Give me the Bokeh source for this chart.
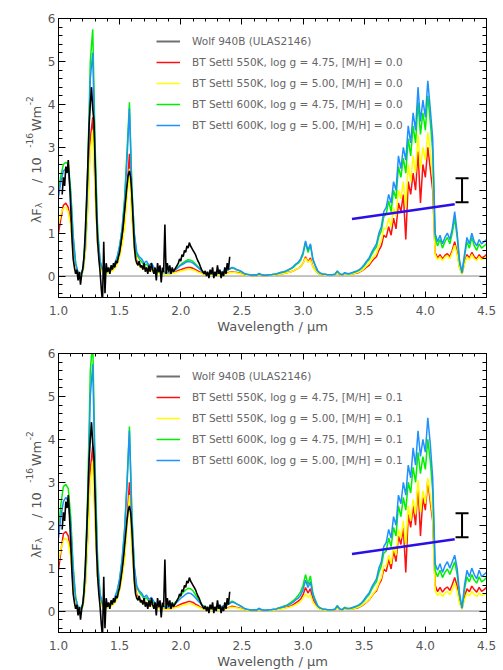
import numpy as np
from bokeh.plotting import figure
from bokeh.layouts import column, row
from bokeh.core.properties import value
from bokeh.models import (Range1d, LinearAxis, FixedTicker, Span, Legend,
                          LegendItem, CustomJSTickFormatter, PrintfTickFormatter,
                          Whisker, TeeHead, ColumnDataSource)
from bokeh.embed import file_html
from bokeh.resources import INLINE

# ---------------- data ----------------
wl_model = np.round(np.arange(1.0, 4.5001, 0.02), 2)   # model wavelength grid (um)
wl_obs = np.round(np.arange(1.03, 2.4001, 0.01), 2)    # observed spectrum grid (um)

flux_obs = [
    1.9, 2.3, 2.1, 2.55, 2.4, 2.7, 2.2, 1.6, 0.9, 0.4,
    0.2, 0.05, 0.15, -0.1, 0.1, -0.2, 0.05, 0.2, 0.5, 1.1,
    1.8, 2.6, 3.5, 4.0, 4.4, 3.9, 3.6, 2.6, 1.5, 0.8,
    0.4, 0.1, -0.3, -0.6, 0.8, -0.4, 0.3, 0.1, 0.2, 0.05,
    0.25, 0.15, 0.3, 0.2, 0.35, 0.3, 0.45, 0.55, 0.75, 0.95,
    1.2, 1.5, 1.8, 2.1, 2.35, 2.45, 2.3, 1.9, 1.3, 0.7,
    0.4, 0.3, 0.25, 0.35, 0.2, 0.25, 0.15, 0.3, 0.1, 0.2,
    0.05, 0.25, 0.1, 0.3, 0.15, 0.05, 0.2, -0.1, 0.3, 0.1,
    0.25, -0.15, 0.2, 0.1, 1.2, 0.05, 0.3, 0.1, 0.25, 0.05,
    0.2, 0.1, 0.15, 0.2, 0.25, 0.3, 0.4, 0.35, 0.5, 0.45,
    0.6, 0.55, 0.7, 0.65, 0.78, 0.7, 0.65, 0.6, 0.55, 0.5,
    0.42, 0.35, 0.3, 0.22, 0.15, 0.1, 0.05, 0.12, 0.0, 0.1,
    -0.05, 0.15, 0.05, 0.2, -0.05, 0.1, 0.0, 0.25, 0.05, 0.15,
    -0.05, 0.1, 0.0, 0.2, 0.05, 0.3, 0.15, 0.45,
]

# [M/H] = 0.0 models
mh00_550_475 = [
    1.0, 1.35, 1.65, 1.7, 1.6, 1.25, 0.6, 0.2, 0.06, 0.04,
    0.1, 0.6, 1.7, 3.2, 3.7, 2.0, 0.75, 0.25, 0.1, 0.07,
    0.08, 0.1, 0.13, 0.2, 0.3, 0.5, 0.8, 1.25, 2.0, 2.85,
    1.5, 0.7, 0.35, 0.28, 0.22, 0.17, 0.18, 0.13, 0.14, 0.1,
    0.08, 0.07, 0.06, 0.06, 0.05, 0.05, 0.06, 0.08, 0.1, 0.13,
    0.15, 0.17, 0.19, 0.2, 0.2, 0.18, 0.15, 0.12, 0.09, 0.06,
    0.04, 0.03, 0.03, 0.03, 0.03, 0.04, 0.04, 0.05, 0.06, 0.07,
    0.09, 0.1, 0.09, 0.08, 0.07, 0.05, 0.03, 0.02, 0.02, 0.01,
    0.02, 0.01, 0.03, 0.02, 0.01, 0.01, 0.02, 0.02, 0.02, 0.03,
    0.04, 0.05, 0.06, 0.07, 0.09, 0.1, 0.12, 0.15, 0.18, 0.22,
    0.3, 0.45, 0.33, 0.42, 0.22, 0.14, 0.07, 0.04, 0.03, 0.02,
    0.02, 0.02, 0.02, 0.03, 0.07, 0.03, 0.02, 0.05, 0.04, 0.04,
    0.05, 0.06, 0.07, 0.09, 0.12, 0.16, 0.21, 0.25, 0.33, 0.4,
    0.45, 0.6, 0.7, 0.95, 0.9, 1.15, 0.95, 1.35, 1.1, 1.7,
    1.5, 1.9, 0.85, 2.2, 1.9, 2.4, 2.0, 2.9, 1.7, 2.6,
    2.3, 3.0, 2.5, 2.0, 0.55, 0.42, 0.5, 0.4, 0.48, 0.52,
    0.45, 0.6, 0.8, 0.55, 0.2, 0.05, 0.3, 0.5, 0.42, 0.55,
    0.45, 0.4, 0.5, 0.42, 0.45, 0.5,
]
mh00_550_500 = [
    1.2, 1.45, 1.58, 1.6, 1.5, 1.15, 0.55, 0.18, 0.05, 0.03,
    0.09, 0.55, 1.55, 2.9, 3.4, 1.85, 0.7, 0.22, 0.09, 0.06,
    0.07, 0.09, 0.12, 0.18, 0.27, 0.45, 0.72, 1.1, 1.8, 2.5,
    1.35, 0.6, 0.3, 0.24, 0.19, 0.15, 0.16, 0.11, 0.12, 0.09,
    0.07, 0.06, 0.05, 0.05, 0.04, 0.04, 0.05, 0.07, 0.08, 0.1,
    0.12, 0.13, 0.14, 0.15, 0.15, 0.14, 0.12, 0.09, 0.07, 0.05,
    0.03, 0.03, 0.02, 0.02, 0.03, 0.03, 0.03, 0.04, 0.05, 0.06,
    0.08, 0.09, 0.08, 0.07, 0.06, 0.04, 0.03, 0.02, 0.01, 0.01,
    0.02, 0.01, 0.03, 0.02, 0.01, 0.01, 0.02, 0.02, 0.02, 0.03,
    0.04, 0.05, 0.06, 0.07, 0.08, 0.1, 0.12, 0.15, 0.18, 0.22,
    0.3, 0.42, 0.32, 0.38, 0.21, 0.13, 0.07, 0.04, 0.03, 0.02,
    0.02, 0.02, 0.02, 0.03, 0.07, 0.03, 0.02, 0.05, 0.04, 0.04,
    0.05, 0.06, 0.08, 0.1, 0.13, 0.18, 0.24, 0.29, 0.38, 0.46,
    0.52, 0.7, 0.82, 1.1, 1.1, 1.35, 1.15, 1.6, 1.4, 2.0,
    1.8, 2.2, 1.6, 2.6, 2.2, 2.8, 2.4, 3.3, 2.5, 3.0,
    2.7, 3.35, 2.9, 2.3, 0.5, 0.38, 0.45, 0.36, 0.44, 0.48,
    0.4, 0.55, 0.72, 0.5, 0.18, 0.05, 0.28, 0.45, 0.38, 0.5,
    0.4, 0.36, 0.45, 0.38, 0.4, 0.45,
]
mh00_600_475 = [
    2.0, 2.35, 2.6, 2.65, 2.6, 2.0, 0.95, 0.3, 0.08, 0.05,
    0.15, 0.9, 2.6, 5.0, 5.75, 3.0, 1.1, 0.35, 0.15, 0.1,
    0.1, 0.13, 0.18, 0.27, 0.42, 0.7, 1.1, 1.8, 2.9, 4.05,
    2.1, 0.95, 0.5, 0.4, 0.33, 0.25, 0.28, 0.2, 0.22, 0.16,
    0.13, 0.1, 0.09, 0.09, 0.08, 0.08, 0.1, 0.13, 0.17, 0.22,
    0.27, 0.31, 0.35, 0.38, 0.37, 0.34, 0.28, 0.22, 0.16, 0.11,
    0.08, 0.06, 0.05, 0.05, 0.06, 0.06, 0.07, 0.09, 0.11, 0.13,
    0.16, 0.19, 0.17, 0.14, 0.12, 0.09, 0.05, 0.04, 0.03, 0.02,
    0.03, 0.02, 0.05, 0.03, 0.02, 0.02, 0.03, 0.03, 0.04, 0.05,
    0.06, 0.08, 0.09, 0.11, 0.14, 0.17, 0.2, 0.26, 0.3, 0.37,
    0.5, 0.78, 0.55, 0.72, 0.38, 0.23, 0.11, 0.06, 0.05, 0.04,
    0.03, 0.03, 0.03, 0.04, 0.11, 0.05, 0.03, 0.07, 0.05, 0.05,
    0.07, 0.09, 0.11, 0.14, 0.18, 0.24, 0.32, 0.38, 0.5, 0.6,
    0.68, 0.92, 1.05, 1.38, 1.45, 1.75, 1.5, 2.0, 1.8, 2.55,
    2.3, 2.75, 2.4, 3.2, 2.8, 3.5, 3.1, 4.05, 3.3, 3.8,
    3.4, 4.2, 3.6, 2.9, 0.9, 0.7, 0.85, 0.65, 0.8, 0.9,
    0.75, 1.0, 1.35, 0.9, 0.3, 0.07, 0.45, 0.8, 0.65, 0.9,
    0.7, 0.6, 0.75, 0.65, 0.7, 0.75,
]
mh00_600_500 = [
    1.85, 2.2, 2.45, 2.5, 2.45, 1.9, 0.9, 0.3, 0.08, 0.05,
    0.15, 0.8, 2.3, 4.6, 5.2, 2.7, 1.0, 0.35, 0.15, 0.1,
    0.12, 0.15, 0.2, 0.3, 0.45, 0.7, 1.1, 1.7, 2.7, 3.9,
    2.0, 1.0, 0.55, 0.45, 0.4, 0.3, 0.35, 0.25, 0.3, 0.2,
    0.15, 0.12, 0.1, 0.1, 0.08, 0.08, 0.1, 0.12, 0.15, 0.2,
    0.25, 0.28, 0.32, 0.34, 0.33, 0.3, 0.25, 0.2, 0.15, 0.1,
    0.07, 0.06, 0.05, 0.05, 0.06, 0.07, 0.08, 0.1, 0.12, 0.14,
    0.17, 0.2, 0.18, 0.15, 0.13, 0.1, 0.06, 0.04, 0.03, 0.02,
    0.03, 0.02, 0.06, 0.03, 0.02, 0.02, 0.03, 0.03, 0.04, 0.05,
    0.07, 0.09, 0.1, 0.12, 0.15, 0.18, 0.22, 0.28, 0.32, 0.4,
    0.55, 0.82, 0.6, 0.75, 0.4, 0.25, 0.12, 0.07, 0.05, 0.04,
    0.03, 0.03, 0.03, 0.04, 0.12, 0.05, 0.03, 0.08, 0.06, 0.06,
    0.08, 0.1, 0.12, 0.15, 0.2, 0.27, 0.35, 0.42, 0.55, 0.65,
    0.75, 1.0, 1.15, 1.5, 1.6, 1.9, 1.7, 2.2, 2.0, 2.8,
    2.5, 3.0, 2.7, 3.5, 3.1, 3.8, 3.4, 4.4, 3.6, 4.1,
    3.7, 4.55, 3.9, 3.2, 1.0, 0.8, 0.95, 0.75, 0.9, 1.0,
    0.85, 1.1, 1.5, 1.0, 0.35, 0.08, 0.5, 0.9, 0.75, 1.0,
    0.8, 0.7, 0.85, 0.75, 0.8, 0.85,
]

# [M/H] = 0.1 models
mh01_550_475 = [
    0.95, 1.4, 1.8, 1.85, 1.75, 1.35, 0.65, 0.22, 0.06, 0.04,
    0.11, 0.65, 1.8, 3.3, 3.85, 2.1, 0.8, 0.27, 0.11, 0.07,
    0.08, 0.1, 0.14, 0.21, 0.32, 0.52, 0.85, 1.3, 2.1, 3.0,
    1.6, 0.75, 0.38, 0.3, 0.24, 0.18, 0.2, 0.14, 0.15, 0.11,
    0.09, 0.07, 0.06, 0.06, 0.05, 0.05, 0.06, 0.08, 0.1, 0.13,
    0.16, 0.18, 0.2, 0.22, 0.22, 0.2, 0.16, 0.13, 0.09, 0.06,
    0.04, 0.03, 0.03, 0.03, 0.03, 0.04, 0.04, 0.05, 0.06, 0.07,
    0.09, 0.11, 0.1, 0.08, 0.07, 0.05, 0.03, 0.02, 0.02, 0.01,
    0.02, 0.01, 0.03, 0.02, 0.01, 0.01, 0.02, 0.02, 0.02, 0.03,
    0.05, 0.06, 0.07, 0.08, 0.1, 0.12, 0.15, 0.19, 0.23, 0.28,
    0.38, 0.55, 0.42, 0.52, 0.28, 0.17, 0.08, 0.05, 0.03, 0.02,
    0.02, 0.02, 0.02, 0.03, 0.08, 0.03, 0.02, 0.06, 0.04, 0.04,
    0.05, 0.06, 0.07, 0.09, 0.12, 0.16, 0.21, 0.26, 0.34, 0.42,
    0.47, 0.62, 0.72, 0.98, 0.92, 1.2, 0.98, 1.4, 1.15, 1.75,
    1.55, 1.95, 0.9, 2.25, 1.95, 2.45, 2.0, 2.95, 1.75, 2.65,
    2.35, 3.05, 2.55, 2.1, 0.6, 0.45, 0.55, 0.44, 0.52, 0.56,
    0.48, 0.62, 0.78, 0.58, 0.22, 0.05, 0.32, 0.52, 0.45, 0.58,
    0.5, 0.44, 0.55, 0.46, 0.5, 0.55,
]
mh01_550_500 = [
    1.15, 1.45, 1.65, 1.7, 1.6, 1.22, 0.6, 0.2, 0.05, 0.03,
    0.1, 0.58, 1.62, 3.0, 3.5, 1.9, 0.72, 0.24, 0.1, 0.06,
    0.07, 0.09, 0.13, 0.19, 0.29, 0.48, 0.77, 1.18, 1.9, 2.7,
    1.45, 0.65, 0.33, 0.26, 0.2, 0.16, 0.17, 0.12, 0.13, 0.1,
    0.07, 0.06, 0.05, 0.05, 0.04, 0.04, 0.05, 0.07, 0.08, 0.1,
    0.12, 0.14, 0.15, 0.17, 0.17, 0.15, 0.12, 0.1, 0.07, 0.05,
    0.03, 0.03, 0.02, 0.02, 0.03, 0.03, 0.03, 0.04, 0.05, 0.06,
    0.08, 0.09, 0.08, 0.07, 0.06, 0.04, 0.03, 0.02, 0.01, 0.01,
    0.02, 0.01, 0.03, 0.02, 0.01, 0.01, 0.02, 0.02, 0.02, 0.03,
    0.04, 0.05, 0.06, 0.07, 0.08, 0.1, 0.12, 0.15, 0.18, 0.22,
    0.3, 0.4, 0.32, 0.38, 0.21, 0.13, 0.07, 0.04, 0.03, 0.02,
    0.02, 0.02, 0.02, 0.03, 0.07, 0.03, 0.02, 0.05, 0.04, 0.04,
    0.05, 0.06, 0.08, 0.1, 0.13, 0.17, 0.22, 0.27, 0.35, 0.43,
    0.5, 0.66, 0.78, 1.05, 1.05, 1.3, 1.1, 1.5, 1.3, 1.9,
    1.7, 2.1, 1.5, 2.45, 2.1, 2.6, 2.25, 3.05, 2.3, 2.8,
    2.5, 3.1, 2.7, 2.2, 0.48, 0.36, 0.43, 0.34, 0.42, 0.46,
    0.38, 0.5, 0.65, 0.46, 0.17, 0.05, 0.26, 0.42, 0.36, 0.46,
    0.38, 0.34, 0.42, 0.36, 0.38, 0.42,
]
mh01_600_475 = [
    1.9, 2.5, 2.9, 2.95, 2.85, 2.2, 1.05, 0.33, 0.09, 0.05,
    0.17, 1.0, 2.9, 5.6, 6.3, 3.3, 1.2, 0.4, 0.16, 0.1,
    0.11, 0.14, 0.2, 0.3, 0.46, 0.75, 1.2, 1.9, 3.0, 4.3,
    2.3, 1.0, 0.55, 0.44, 0.37, 0.28, 0.31, 0.22, 0.25, 0.18,
    0.15, 0.12, 0.1, 0.1, 0.09, 0.09, 0.12, 0.16, 0.22, 0.3,
    0.37, 0.43, 0.49, 0.53, 0.52, 0.47, 0.38, 0.29, 0.2, 0.13,
    0.09, 0.07, 0.06, 0.06, 0.07, 0.07, 0.08, 0.1, 0.12, 0.15,
    0.19, 0.23, 0.2, 0.16, 0.13, 0.1, 0.06, 0.04, 0.03, 0.02,
    0.03, 0.02, 0.06, 0.03, 0.02, 0.02, 0.03, 0.03, 0.04, 0.05,
    0.07, 0.09, 0.11, 0.13, 0.16, 0.2, 0.24, 0.3, 0.36, 0.45,
    0.6, 0.85, 0.62, 0.82, 0.42, 0.26, 0.12, 0.07, 0.05, 0.04,
    0.03, 0.03, 0.03, 0.04, 0.13, 0.05, 0.03, 0.09, 0.06, 0.06,
    0.07, 0.09, 0.11, 0.14, 0.18, 0.24, 0.32, 0.38, 0.5, 0.6,
    0.68, 0.9, 1.05, 1.35, 1.4, 1.7, 1.5, 1.95, 1.75, 2.45,
    2.2, 2.65, 2.35, 3.0, 2.75, 3.35, 3.0, 3.7, 3.2, 3.6,
    3.3, 4.0, 3.5, 2.8, 0.95, 0.8, 0.95, 0.78, 0.9, 0.98,
    0.85, 1.0, 1.15, 0.85, 0.35, 0.06, 0.5, 0.8, 0.68, 0.85,
    0.72, 0.65, 0.8, 0.68, 0.72, 0.78,
]
mh01_600_500 = [
    1.7, 2.2, 2.55, 2.65, 2.55, 2.0, 0.95, 0.3, 0.08, 0.05,
    0.15, 0.85, 2.5, 5.0, 5.75, 3.0, 1.1, 0.38, 0.16, 0.1,
    0.12, 0.15, 0.21, 0.32, 0.48, 0.75, 1.2, 1.85, 2.9, 4.2,
    2.2, 1.05, 0.58, 0.47, 0.42, 0.32, 0.37, 0.27, 0.32, 0.22,
    0.17, 0.13, 0.11, 0.11, 0.09, 0.09, 0.11, 0.14, 0.18, 0.24,
    0.3, 0.34, 0.39, 0.42, 0.41, 0.37, 0.31, 0.24, 0.18, 0.12,
    0.08, 0.07, 0.06, 0.06, 0.07, 0.08, 0.09, 0.11, 0.13, 0.15,
    0.18, 0.21, 0.19, 0.16, 0.13, 0.1, 0.06, 0.04, 0.03, 0.02,
    0.03, 0.02, 0.06, 0.03, 0.02, 0.02, 0.03, 0.03, 0.04, 0.05,
    0.07, 0.08, 0.1, 0.12, 0.14, 0.17, 0.21, 0.26, 0.3, 0.37,
    0.5, 0.72, 0.55, 0.68, 0.38, 0.23, 0.11, 0.07, 0.05, 0.04,
    0.03, 0.03, 0.03, 0.04, 0.11, 0.05, 0.03, 0.08, 0.06, 0.06,
    0.08, 0.1, 0.12, 0.15, 0.2, 0.27, 0.35, 0.42, 0.55, 0.65,
    0.75, 1.0, 1.15, 1.5, 1.6, 1.9, 1.7, 2.2, 2.0, 2.7,
    2.5, 3.0, 2.7, 3.4, 3.1, 3.8, 3.4, 4.2, 3.6, 4.0,
    3.7, 4.5, 3.9, 3.1, 1.1, 0.95, 1.1, 0.9, 1.05, 1.15,
    1.0, 1.15, 1.3, 1.0, 0.4, 0.07, 0.6, 0.95, 0.8, 1.0,
    0.85, 0.75, 0.95, 0.8, 0.85, 0.9,
]

# photometric slope line and error bar
slope_x = [3.40, 4.24]
slope_y = [1.33, 1.67]
err_x = [4.30]
err_lo = [1.72]
err_hi = [2.28]

obs_label = "Wolf 940B (ULAS2146)"
model_names = ["BT Settl 550K, log g = 4.75", "BT Settl 550K, log g = 5.00",
               "BT Settl 600K, log g = 4.75", "BT Settl 600K, log g = 5.00"]
model_colors = ["#ff1010", "#ffff00", "#00f000", "#1e90ff"]

x_major = [1.0, 1.5, 2.0, 2.5, 3.0, 3.5, 4.0, 4.5]
x_minor = [round(1.0 + 0.1 * i, 1) for i in range(36)]
y_major = [0, 1, 2, 3, 4, 5, 6]
y_minor = [round(-0.4 + 0.2 * i, 1) for i in range(33)]

for arr in [mh00_550_475, mh00_550_500, mh00_600_475, mh00_600_500,
            mh01_550_475, mh01_550_500, mh01_600_475, mh01_600_500]:
    assert len(arr) == len(wl_model), len(arr)
assert len(flux_obs) == len(wl_obs), len(flux_obs)

FONT = "DejaVu Sans"
TXT = "#555555"
LAB_W = 44   # width of the strip that carries the rotated y-axis title


def style_axis(ax, major_in, minor_in):
    ax.major_tick_in = major_in
    ax.major_tick_out = 0
    ax.minor_tick_in = minor_in
    ax.minor_tick_out = 0
    ax.axis_line_color = "black"
    ax.major_tick_line_color = "black"
    ax.minor_tick_line_color = "black"


def make_ylabel(border_top, border_bottom):
    # narrow strip (1 unit = 1 px horizontally) holding the y-axis title pieces
    f = figure(frame_width=LAB_W, frame_height=279,
               x_range=Range1d(0, LAB_W), y_range=Range1d(-0.5, 6.0),
               output_backend="svg", toolbar_location=None,
               x_axis_location=None, y_axis_location=None,
               min_border_left=0, min_border_right=0,
               min_border_top=border_top, min_border_bottom=border_bottom)
    f.grid.visible = False
    f.outline_line_color = None
    pieces = [("λF", "13px", 36, 1.228), ("λ", "9px", 38.5, 1.583),
              ("/", "13px", 36, 2.168), ("10", "13px", 36, 2.382),
              ("-16", "9px", 29, 2.988), ("Wm", "13px", 36, 3.373),
              ("-2", "9px", 29, 3.979)]
    for text, size, xs, yd in pieces:
        f.text(x=[xs], y=[yd], text=[text], angle=np.pi / 2,
               text_font=value(FONT), text_font_size=value(size),
               text_color=TXT, text_align="left", text_baseline="alphabetic")
    return f


def make_panel(models, mh, border_top, border_bottom):
    p = figure(frame_width=428, frame_height=279,
               x_range=Range1d(1.0, 4.5), y_range=Range1d(-0.5, 6.0),
               output_backend="svg", toolbar_location=None,
               min_border_left=58 - LAB_W, min_border_right=12,
               min_border_top=border_top, min_border_bottom=border_bottom)
    p.grid.visible = False
    p.outline_line_color = "black"
    p.outline_line_alpha = 1.0

    xa = p.xaxis[0]
    xa.ticker = FixedTicker(ticks=x_major, minor_ticks=x_minor)
    xa.formatter = PrintfTickFormatter(format="%.1f")
    style_axis(xa, 6, 3)
    xa.major_label_text_font = FONT
    xa.major_label_text_font_size = "12px"
    xa.major_label_text_color = TXT
    xa.major_label_standoff = 8
    xa.axis_label = "Wavelength / μm"
    xa.axis_label_text_font = FONT
    xa.axis_label_text_font_size = "13px"
    xa.axis_label_text_font_style = "normal"
    xa.axis_label_text_color = TXT
    xa.axis_label_standoff = 1

    ya = p.yaxis[0]
    ya.ticker = FixedTicker(ticks=y_major, minor_ticks=y_minor)
    ya.formatter = PrintfTickFormatter(format="%d")
    style_axis(ya, 7, 4)
    ya.major_label_text_font = FONT
    ya.major_label_text_font_size = "12px"
    ya.major_label_text_color = TXT
    ya.major_label_standoff = 3

    top = LinearAxis(ticker=FixedTicker(ticks=x_major, minor_ticks=x_minor),
                     formatter=CustomJSTickFormatter(code="return ''"),
                     major_label_text_font_size="0px", major_label_standoff=0)
    style_axis(top, 6, 3)
    p.add_layout(top, "above")
    right = LinearAxis(ticker=FixedTicker(ticks=y_major, minor_ticks=y_minor),
                       formatter=CustomJSTickFormatter(code="return ''"),
                       major_label_text_font_size="0px", major_label_standoff=0)
    style_axis(right, 7, 4)
    p.add_layout(right, "right")

    p.add_layout(Span(location=0, dimension="width", line_color="#888888",
                      line_width=1, level="underlay"))

    renderers = []
    for data, color in zip(models, model_colors):
        r = p.line(wl_model, data, line_color=color, line_width=1.5)
        renderers.append(r)
    p.line(wl_obs, flux_obs, line_color="black", line_width=1.6)

    p.line(slope_x, slope_y, line_color="#2a10e6", line_width=2.5)
    src = ColumnDataSource(dict(base=err_x, lower=err_lo, upper=err_hi))
    p.add_layout(Whisker(source=src, base="base", lower="lower", upper="upper",
                         dimension="height", line_color="black", line_width=2,
                         upper_head=TeeHead(size=13, line_width=2, line_color="black"),
                         lower_head=TeeHead(size=13, line_width=2, line_color="black")))

    # legend-only sample line for the observed spectrum (grey, as in the key)
    key_src = ColumnDataSource(dict(x=np.array([np.nan]), y=np.array([np.nan])))
    dummy = p.line("x", "y", source=key_src, line_color="#707070", line_width=2)
    items = [LegendItem(label=obs_label, renderers=[dummy])]
    for name, r in zip(model_names, renderers):
        items.append(LegendItem(label=f"{name}, [M/H] = {mh}", renderers=[r]))
    legend = Legend(items=items, location=(98, 165),
                    label_text_font=FONT, label_text_font_size="10.5px",
                    label_text_color="#666666", glyph_width=24, glyph_height=14,
                    label_height=14, spacing=7, padding=0, margin=0,
                    label_standoff=12, border_line_alpha=0,
                    background_fill_alpha=0)
    p.add_layout(legend)
    return p


p1 = make_panel([mh00_550_475, mh00_550_500, mh00_600_475, mh00_600_500], "0.0", 18, 46)
p2 = make_panel([mh01_550_475, mh01_550_500, mh01_600_475, mh01_600_500], "0.1", 10, 37)
l1 = make_ylabel(18, 46)
l2 = make_ylabel(10, 37)

layout = column(row(l1, p1), row(l2, p2))
open("out.html", "w").write(file_html(layout, INLINE))
